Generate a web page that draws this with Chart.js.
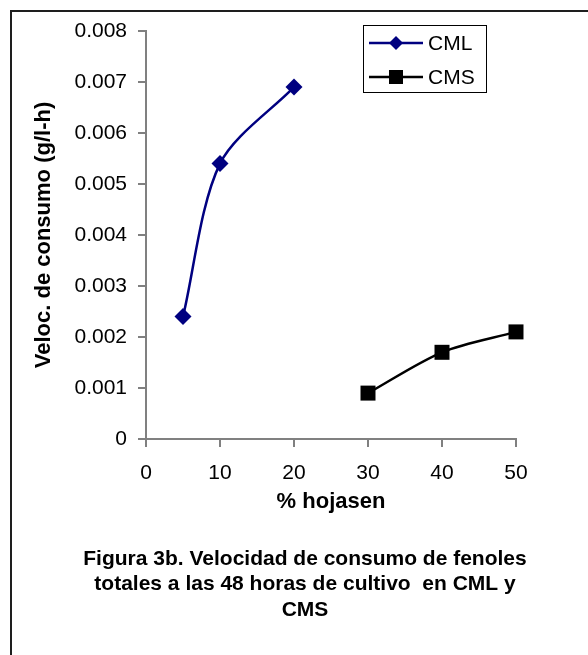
<!DOCTYPE html>
<html>
<head>
<meta charset="utf-8">
<script src="https://cdn.jsdelivr.net/npm/chart.js@4.4.1/dist/chart.umd.min.js"></script>
<style>
html,body{margin:0;padding:0;background:#fff;}
#wrap{position:relative;width:588px;height:655px;overflow:hidden;}
#frame{position:absolute;left:10px;top:10px;width:700px;height:800px;border-left:2px solid #1e1e1e;border-top:2px solid #1e1e1e;}
#c{position:absolute;left:0;top:0;}
</style>
</head>
<body>
<div id="wrap"><div id="frame"></div><canvas id="c" width="588" height="655"></canvas></div>
<script>
// ---- data ----
const seriesNames = ['CML', 'CMS'];
const cmlX = [5, 10, 20];
const cmlY = [0.0024, 0.0054, 0.0069];
const cmsX = [30, 40, 50];
const cmsY = [0.0009, 0.0017, 0.0021];
const xTicks = [0, 10, 20, 30, 40, 50];
const yTicks = [0, 0.001, 0.002, 0.003, 0.004, 0.005, 0.006, 0.007, 0.008];
const xTitle = '% hojasen';
const yTitle = 'Veloc. de consumo (g/l-h)';
const captionLines = [
  'Figura 3b. Velocidad de consumo de fenoles',
  'totales a las 48 horas de cultivo  en CML y',
  'CMS'
];

// ---- styling ----
const FONT = '"Liberation Sans", Arial, Helvetica, sans-serif';
const AXIS_GRAY = '#808080';

const toPts = (xs, ys) => xs.map((x, i) => ({x: x, y: ys[i]}));

const legendPlugin = {
  id: 'boxLegend',
  afterDraw(chart) {
    const ctx = chart.ctx;
    const bx = 363.5, by = 25.5, bw = 123, bh = 67;
    ctx.save();
    ctx.fillStyle = '#fff';
    ctx.fillRect(bx, by, bw, bh);
    ctx.strokeStyle = '#000';
    ctx.lineWidth = 1;
    ctx.strokeRect(bx, by, bw, bh);
    const rows = [43, 77];
    chart.data.datasets.forEach((ds, i) => {
      const y = rows[i];
      ctx.strokeStyle = ds.borderColor;
      ctx.lineWidth = ds.borderWidth;
      ctx.beginPath();
      ctx.moveTo(369, y);
      ctx.lineTo(423, y);
      ctx.stroke();
      const cx = 396;
      ctx.fillStyle = ds.pointBackgroundColor;
      ctx.beginPath();
      if (ds.pointStyle === 'rectRot') {
        const r = 7;
        ctx.moveTo(cx, y - r); ctx.lineTo(cx + r, y); ctx.lineTo(cx, y + r); ctx.lineTo(cx - r, y);
        ctx.closePath();
      } else {
        const h = 7;
        ctx.rect(cx - h, y - h, 2 * h, 2 * h);
      }
      ctx.fill();
      ctx.fillStyle = '#000';
      ctx.font = '21px ' + FONT;
      ctx.textAlign = 'left';
      ctx.textBaseline = 'middle';
      ctx.fillText(ds.label, 428, y + 1);
    });
    ctx.restore();
  }
};

const captionPlugin = {
  id: 'caption',
  afterDraw(chart) {
    const ctx = chart.ctx;
    ctx.save();
    ctx.fillStyle = '#000';
    ctx.font = 'bold 21px ' + FONT;
    ctx.textAlign = 'center';
    ctx.textBaseline = 'middle';
    const ys = [559, 584, 610];
    captionLines.forEach((t, i) => ctx.fillText(t, 305, ys[i]));
    ctx.restore();
  }
};

new Chart(document.getElementById('c'), {
  type: 'line',
  data: {
    datasets: [
      {
        label: seriesNames[0],
        data: toPts(cmlX, cmlY),
        borderColor: '#000080',
        backgroundColor: '#000080',
        pointBackgroundColor: '#000080',
        pointBorderColor: '#000080',
        pointStyle: 'rectRot',
        pointRadius: 8.5,
        pointBorderWidth: 0,
        borderWidth: 2.5,
        tension: 0.3,
        clip: false
      },
      {
        label: seriesNames[1],
        data: toPts(cmsX, cmsY),
        borderColor: '#000000',
        backgroundColor: '#000000',
        pointBackgroundColor: '#000000',
        pointBorderColor: '#000000',
        pointStyle: 'rect',
        pointRadius: 10.6,
        pointBorderWidth: 0,
        borderWidth: 2.5,
        tension: 0.3,
        clip: false
      }
    ]
  },
  options: {
    responsive: false,
    animation: false,
    layout: {padding: {left: 10, top: 31, right: 72, bottom: 140}},
    plugins: {
      legend: {display: false},
      tooltip: {enabled: false},
      title: {display: false}
    },
    scales: {
      x: {
        type: 'linear',
        min: 0, max: 50,
        afterBuildTicks: s => { s.ticks = xTicks.map(v => ({value: v})); },
        afterFit: s => { s.height = 76; },
        grid: {drawOnChartArea: false, drawTicks: true, tickLength: 8, color: AXIS_GRAY, lineWidth: 2},
        border: {display: true, color: AXIS_GRAY, width: 2},
        ticks: {color: '#000', font: {family: FONT, size: 21}, padding: 14, maxRotation: 0},
        title: {display: true, text: xTitle, color: '#000', font: {family: FONT, size: 22, weight: 'bold'}, padding: {top: 0, bottom: 0}}
      },
      y: {
        type: 'linear',
        min: 0, max: 0.008,
        afterBuildTicks: s => { s.ticks = yTicks.map(v => ({value: v})); },
        afterFit: s => { s.width = 136; },
        grid: {drawOnChartArea: false, drawTicks: true, tickLength: 8, color: AXIS_GRAY, lineWidth: 2},
        border: {display: true, color: AXIS_GRAY, width: 2},
        ticks: {color: '#000', font: {family: FONT, size: 21}, padding: 11,
          callback: v => (v === 0 ? '0' : v.toFixed(3))},
        title: {display: true, text: yTitle, color: '#000', font: {family: FONT, size: 22, weight: 'bold'}, padding: {top: 21, bottom: 0}}
      }
    }
  },
  plugins: [legendPlugin, captionPlugin]
});
</script>
</body>
</html>
